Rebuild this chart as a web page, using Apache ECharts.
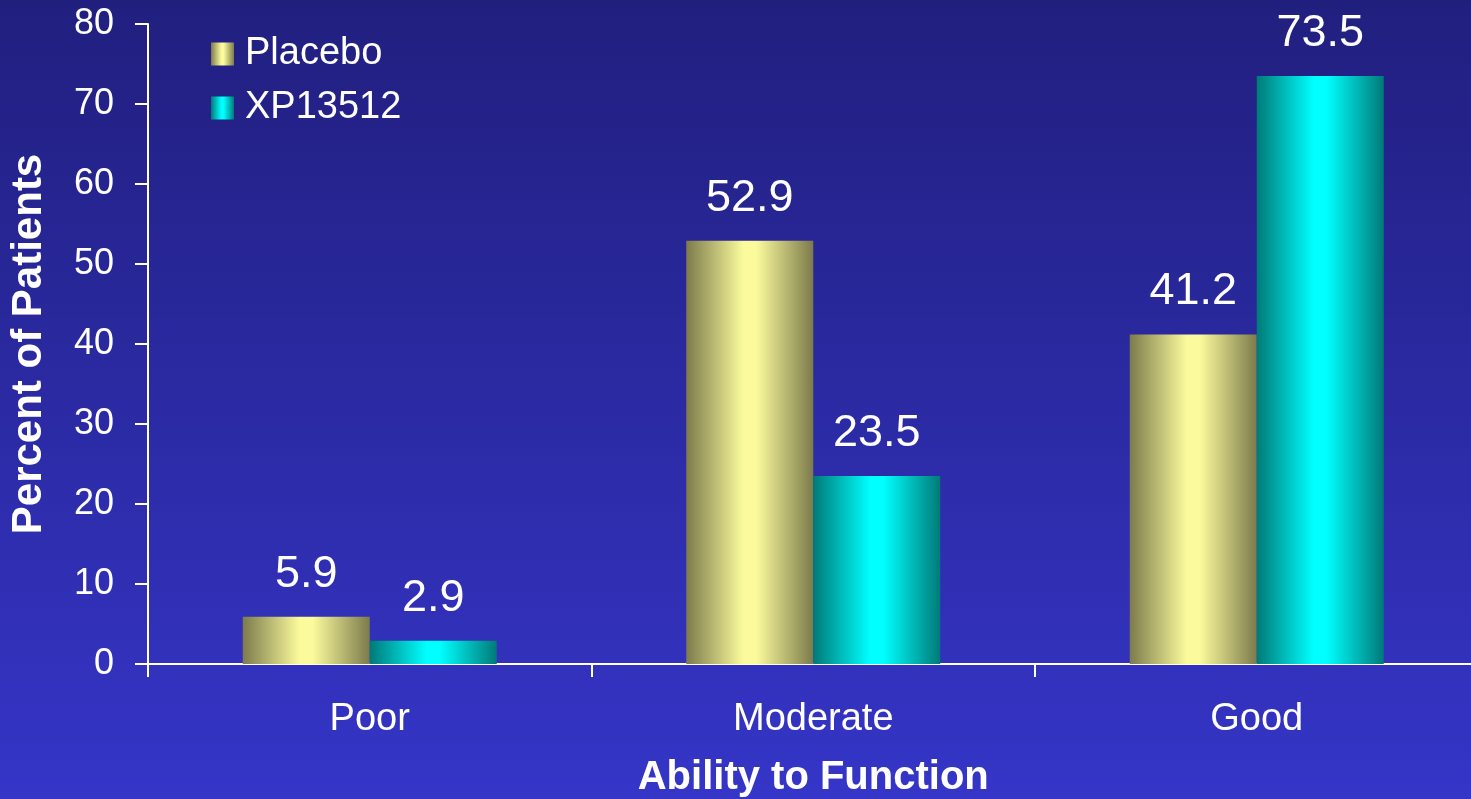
<!DOCTYPE html>
<html>
<head>
<meta charset="utf-8">
<script src="https://cdn.jsdelivr.net/npm/echarts@6/dist/echarts.min.js"></script>
<style>
  html, body { margin: 0; padding: 0; }
  #chart { width: 1471px; height: 799px; }
</style>
</head>
<body>
<div id="chart"></div>
<script>
// Ability-to-function outcome by treatment group
const categories = ['Poor', 'Moderate', 'Good'];
const placebo = [5.9, 52.9, 41.2];
const xp13512 = [2.9, 23.5, 73.5];
const seriesNames = ['Placebo', 'XP13512'];
const yTicks = { min: 0, max: 80, interval: 10 };

const FONT = '"Liberation Sans", Arial, sans-serif';

// Cylinder-like horizontal shading for each bar
function shade(edge, mid) {
  return new echarts.graphic.LinearGradient(0, 0, 1, 0, [
    { offset: 0, color: edge },
    { offset: 0.45, color: mid },
    { offset: 0.55, color: mid },
    { offset: 1, color: edge }
  ]);
}

const chart = echarts.init(document.getElementById('chart'), null, { renderer: 'canvas' });

const labelStyle = {
  show: true,
  position: 'top',
  distance: 20,
  color: '#ffffff',
  fontFamily: FONT,
  fontSize: 45
};

chart.setOption({
  animation: false,
  backgroundColor: new echarts.graphic.LinearGradient(0, 0, 0, 1, [
    { offset: 0, color: '#211f7e' },
    { offset: 1, color: '#3535c8' }
  ]),
  legend: {
    left: 206,
    top: 30,
    orient: 'vertical',
    itemWidth: 23,
    itemHeight: 23,
    itemGap: 16,
    textStyle: { color: '#ffffff', fontFamily: FONT, fontSize: 38, padding: [0, 0, 0, 6] },
    data: seriesNames.map(n => ({ name: n, icon: 'rect' }))
  },
  grid: { left: 148, top: 24, right: -7.5, bottom: 135, containLabel: false, outerBoundsMode: 'none' },
  xAxis: {
    type: 'category',
    data: categories,
    boundaryGap: true,
    name: 'Ability to Function',
    nameLocation: 'middle',
    nameGap: 94,
    nameTextStyle: { color: '#ffffff', fontFamily: FONT, fontSize: 40, fontWeight: 'bold', verticalAlign: 'top' },
    axisLine: { show: true, lineStyle: { color: '#ffffff', width: 2 } },
    axisTick: { show: true, length: 13, lineStyle: { color: '#ffffff', width: 2 } },
    axisLabel: { color: '#ffffff', fontFamily: FONT, fontSize: 38, margin: 37 },
    splitLine: { show: false }
  },
  yAxis: {
    type: 'value',
    min: yTicks.min,
    max: yTicks.max,
    interval: yTicks.interval,
    name: 'Percent of Patients',
    nameLocation: 'middle',
    nameGap: 98,
    nameTextStyle: { color: '#ffffff', fontFamily: FONT, fontSize: 42, fontWeight: 'bold' },
    axisLine: { show: true, lineStyle: { color: '#ffffff', width: 2 } },
    axisTick: { show: true, length: 13, lineStyle: { color: '#ffffff', width: 2 } },
    axisLabel: { color: '#ffffff', fontFamily: FONT, fontSize: 36, margin: 34 },
    splitLine: { show: false }
  },
  series: [
    {
      name: seriesNames[0],
      type: 'bar',
      data: placebo,
      barWidth: 127,
      barGap: '0%',
      itemStyle: { color: shade('#7c7b4c', '#fbfb9d') },
      label: labelStyle
    },
    {
      name: seriesNames[1],
      type: 'bar',
      data: xp13512,
      barWidth: 127,
      barGap: '0%',
      itemStyle: { color: shade('#007a78', '#00ffff') },
      label: labelStyle
    }
  ]
});
</script>
</body>
</html>
